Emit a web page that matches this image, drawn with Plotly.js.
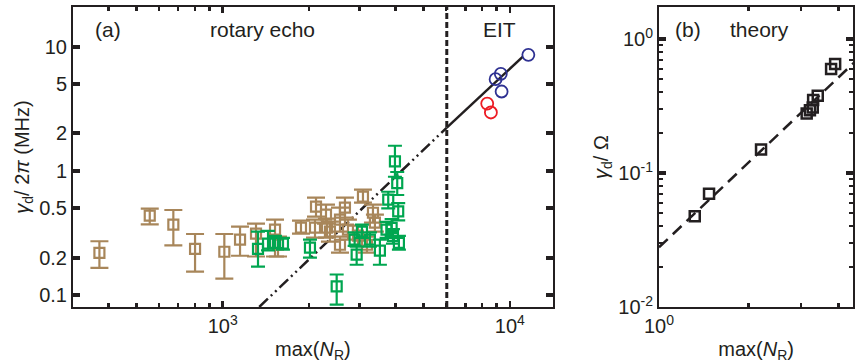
<!DOCTYPE html>
<html><head><meta charset="utf-8">
<script src="https://cdn.plot.ly/plotly-3.0.1.min.js"></script>
<style>html,body{margin:0;padding:0;background:#fff}</style>
</head><body><div id="chart" style="width:856px;height:363px"></div>
<script>
// ---------- Panel (a): rotary echo (brown) ----------
const brownX  = [372, 557, 673, 801, 1013, 1149, 1306, 1521, 1558, 1873, 2113, 2096, 2289, 2307, 2561, 2665, 2730, 2363, 2561, 2958, 3079, 3179, 3336, 3389];
const brownY  = [0.219,0.437,0.370,0.236,0.224,0.280,0.313,0.337,0.255,0.350,0.516,0.350,0.445,0.350,0.406,0.506,0.337,0.325,0.255,0.302,0.621,0.255,0.461,0.384];
const brownHi = [0.272,0.497,0.485,0.311,0.311,0.356,0.377,0.406,0.296,0.398,0.609,0.406,0.535,0.413,0.506,0.609,0.406,0.391,0.296,0.363,0.706,0.296,0.535,0.445];
const brownLo = [0.166,0.372,0.252,0.155,0.136,0.208,0.205,0.205,0.205,0.313,0.429,0.291,0.377,0.291,0.325,0.421,0.280,0.270,0.220,0.251,0.555,0.220,0.384,0.325];

// ---------- Panel (a): rotary echo (green) ----------
const greenX  = [1327, 1438, 1521, 1621, 2013, 2494, 2927, 3527, 3875, 4108, 3771, 4085, 4053, 3979, 3256, 3916, 3054, 3720, 2880];
const greenY  = [0.236,0.260,0.264,0.260,0.242,0.118,0.212,0.229,0.348,0.264,0.587,0.473,0.799,1.192,0.280,0.300,0.325,0.337,0.280];
const greenHi = [0.325,0.330,0.300,0.290,0.280,0.147,0.246,0.280,0.410,0.300,0.680,0.550,0.980,1.594,0.320,0.340,0.370,0.390,0.320];
const greenLo = [0.170,0.230,0.240,0.233,0.201,0.084,0.176,0.176,0.300,0.233,0.500,0.400,0.640,0.898,0.246,0.260,0.290,0.290,0.250];

// ---------- Panel (a): EIT ----------
const blueX = [11600, 9300, 8920, 9360];
const blueY = [8.58, 6.04, 5.47, 4.35];
const redX  = [8340, 8590];
const redY  = [3.48, 2.95];

// fit lines (endpoints)
const fitDotX = [1340, 6030];
const fitDotY = [0.0805, 2.23];
const fitSolidX = [6030, 11100];
const fitSolidY = [2.23, 8.3];
const dividerX = [6030, 6030];
const dividerY = [0.0805, 20.8];

// ---------- Panel (b): theory ----------
const theoryX = [1.318, 1.472, 2.20, 3.13, 3.21, 3.28, 3.29, 3.41, 3.78, 3.90];
const theoryY = [0.0476, 0.0701, 0.150, 0.279, 0.295, 0.309, 0.351, 0.378, 0.599, 0.653];
const theoryFitX = [1, 4.55];
const theoryFitY = [0.0279, 0.679];

// tick labels
const aYTicks = [0.1, 0.2, 0.5, 1, 2, 5, 10];
const aYText  = ['0.1', '0.2', '0.5', '1', '2', '5', '10'];
const aXTicks = [1000, 10000];
const aXText  = ['10<sup>3</sup>', '10<sup>4</sup>'];
const aXMinor = [400,500,600,700,800,900,2000,3000,4000,5000,6000,7000,8000,9000];
const bYTicks = [0.01, 0.1, 1];
const bYText  = ['10<sup>-2</sup>', '10<sup>-1</sup>', '10<sup>0</sup>'];
const bYMinor = [0.02,0.03,0.04,0.05,0.06,0.07,0.08,0.09,0.2,0.3,0.4,0.5,0.6,0.7,0.8,0.9];
const bXTicks = [1];
const bXText  = ['10<sup>0</sup>'];
const bXMinor = [2, 3, 4];

const INK = '#231f20', BROWN = '#a8865a', GREEN = '#00a650', BLUE = '#2e3192', RED = '#ed1c24';
const FONT = 'Liberation Sans, Arial, sans-serif';

function diff(a, b) { return a.map((v, i) => v - b[i]); }

const traces = [
  {x: dividerX, y: dividerY, xaxis: 'x', yaxis: 'y', mode: 'lines', line: {color: INK, width: 3, dash: '6px,3px'}, hoverinfo: 'skip'},
  {x: fitDotX, y: fitDotY, xaxis: 'x', yaxis: 'y', mode: 'lines', line: {color: INK, width: 2.5, dash: '12px,4px,2px,4px,2px,4px'}},
  {x: fitSolidX, y: fitSolidY, xaxis: 'x', yaxis: 'y', mode: 'lines', line: {color: INK, width: 2.5}},
  {x: brownX, y: brownY, xaxis: 'x', yaxis: 'y', mode: 'markers',
   marker: {symbol: 'square-open', size: 10, color: BROWN, line: {width: 2.2, color: BROWN}},
   error_y: {type: 'data', symmetric: false, array: diff(brownHi, brownY), arrayminus: diff(brownY, brownLo), color: BROWN, thickness: 2.2, width: 9}},
  {x: greenX, y: greenY, xaxis: 'x', yaxis: 'y', mode: 'markers',
   marker: {symbol: 'square-open', size: 10, color: GREEN, line: {width: 2.2, color: GREEN}},
   error_y: {type: 'data', symmetric: false, array: diff(greenHi, greenY), arrayminus: diff(greenY, greenLo), color: GREEN, thickness: 2.2, width: 7}},
  {x: blueX, y: blueY, xaxis: 'x', yaxis: 'y', mode: 'markers',
   marker: {symbol: 'circle-open', size: 12, color: BLUE, line: {width: 1.8, color: BLUE}}},
  {x: redX, y: redY, xaxis: 'x', yaxis: 'y', mode: 'markers',
   marker: {symbol: 'circle-open', size: 12, color: RED, line: {width: 1.8, color: RED}}},
  {x: theoryFitX, y: theoryFitY, xaxis: 'x2', yaxis: 'y2', mode: 'lines', line: {color: INK, width: 2.5, dash: '12px,7px'}},
  {x: theoryX, y: theoryY, xaxis: 'x2', yaxis: 'y2', mode: 'markers',
   marker: {symbol: 'square-open', size: 10, color: INK, line: {width: 2.5, color: INK}}}
];

const W = 856, H = 363;
const common = {type: 'log', showgrid: false, zeroline: false, showline: true, linecolor: INK, linewidth: 2,
  mirror: 'ticks', ticks: 'inside', tickcolor: INK, tickmode: 'array',
  tickfont: {family: FONT, size: 20, color: INK}};

const layout = {
  width: W, height: H, margin: {l: 0, r: 0, t: 0, b: 0}, showlegend: false,
  paper_bgcolor: '#fff', plot_bgcolor: '#fff',
  font: {family: FONT, color: INK},
  xaxis: Object.assign({}, common, {
    domain: [73 / W, 552.7 / W], range: [Math.log10(301), Math.log10(14100)],
    tickvals: aXTicks, ticktext: aXText, ticklen: 6, tickwidth: 2.5,
    minor: {tickvals: aXMinor, ticks: 'inside', ticklen: 4, tickwidth: 2.5, tickcolor: INK},
    title: {text: 'max(<i>N</i><sub>R</sub>)', font: {family: FONT, size: 20, color: INK}, standoff: 6},
    anchor: 'y'}),
  yaxis: Object.assign({}, common, {
    domain: [1 - 307 / H, 1 - 7 / H], range: [Math.log10(0.0805), Math.log10(20.8)],
    tickvals: aYTicks, ticktext: aYText, ticklen: 7, tickwidth: 4,
    title: {text: '<i>γ</i><sub>d</sub>/ 2<i>π</i> (MHz)', font: {family: FONT, size: 20, color: INK}, standoff: 4},
    anchor: 'x'}),
  xaxis2: Object.assign({}, common, {
    domain: [659 / W, 853.3 / W], range: [0, 0.652],
    tickvals: bXTicks, ticktext: bXText, ticklen: 6, tickwidth: 2.5,
    minor: {tickvals: bXMinor, ticks: 'inside', ticklen: 4, tickwidth: 2.5, tickcolor: INK},
    title: {text: 'max(<i>N</i><sub>R</sub>)', font: {family: FONT, size: 20, color: INK}, standoff: 6},
    anchor: 'y2'}),
  yaxis2: Object.assign({}, common, {
    domain: [1 - 307 / H, 1 - 7 / H], range: [-2, 0.24],
    tickvals: bYTicks, ticktext: bYText, ticklen: 7, tickwidth: 4,
    minor: {tickvals: bYMinor, ticks: 'inside', ticklen: 4, tickwidth: 2, tickcolor: INK},
    title: {text: '<i>γ</i><sub>d</sub>/ Ω', font: {family: FONT, size: 20, color: INK}, standoff: 4},
    anchor: 'x2'}),
  annotations: [
    {text: '(a)', x: 93 / W, y: 1 - 29 / H},
    {text: 'rotary echo', x: 208 / W, y: 1 - 29 / H},
    {text: 'EIT', x: 481 / W, y: 1 - 29 / H},
    {text: '(b)', x: 673 / W, y: 1 - 29 / H},
    {text: 'theory', x: 728 / W, y: 1 - 29 / H}
  ].map(a => Object.assign(a, {xref: 'paper', yref: 'paper', xanchor: 'left', yanchor: 'middle', showarrow: false,
    font: {family: FONT, size: 21, color: INK}}))
};

Plotly.newPlot('chart', traces, layout, {staticPlot: true, displayModeBar: false});
</script>
</body></html>
